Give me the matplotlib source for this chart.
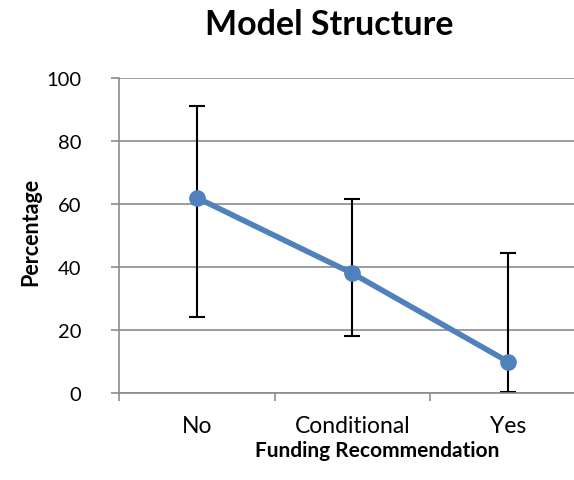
import matplotlib
matplotlib.use("Agg")
import matplotlib.pyplot as plt
import numpy as np

categories = ["No", "Conditional", "Yes"]
values = [62, 38, 10]
err_upper = [91, 61.5, 44.5]
err_lower = [24, 18, 0.3]
y_ticks = [0, 20, 40, 60, 80, 100]

plt.rcParams["font.family"] = ["Lato", "DejaVu Sans"]

W, H = 574, 481
fig = plt.figure(figsize=(W / 100, H / 100), dpi=100)
# plot area runs past the right edge of the picture, as in the reference
ax = fig.add_axes([119 / W, 1 - 394 / H, 466.5 / W, 315 / H])

x = np.arange(len(categories))
vals = np.array(values)
yerr = [vals - np.array(err_lower), np.array(err_upper) - vals]

grid_c = "#8c8c8c"
for t in y_ticks:
    ax.axhline(t, color=grid_c, lw=1.2, zorder=0)

ax.errorbar(x, vals, yerr=yerr, fmt="none", ecolor="black", elinewidth=1.5,
            capsize=6, capthick=1.5, zorder=2)
ax.plot(x, vals, color="#4f81bd", lw=4, marker="o", ms=11, zorder=3,
        solid_capstyle="round")

ax.set_xlim(-0.5, 2.5)
ax.set_ylim(0, 100)
ax.set_yticks(y_ticks)
ax.set_yticklabels([str(t) for t in y_ticks], fontsize=14.5)
ax.set_xticks([-0.5, 0.5, 1.5, 2.5])
ax.set_xticklabels([])
ax.set_xticks(x, minor=True)
ax.set_xticklabels(categories, minor=True, fontsize=16.5)
ax.tick_params(axis="x", which="minor", length=0, pad=16)
ax.tick_params(axis="x", which="major", length=6, color=grid_c, width=1.2)
ax.tick_params(axis="y", length=6, color=grid_c, width=1.2, pad=21)
for side in ["top", "right"]:
    ax.spines[side].set_visible(False)
for side in ["left", "bottom"]:
    ax.spines[side].set_color(grid_c)
    ax.spines[side].set_linewidth(1.2)

fig.text(329 / W, 1 - 25 / H, "Model Structure", ha="center", va="center",
         fontsize=24.5, fontweight="bold")
fig.text(377 / W, 1 - 451 / H, "Funding Recommendation", ha="center",
         va="center", fontsize=15, fontweight="bold")
fig.text(31 / W, 1 - 232 / H, "Percentage", ha="center", va="center",
         rotation=90, fontsize=15.5, fontweight="bold")

fig.savefig("out.png", dpi=100)
